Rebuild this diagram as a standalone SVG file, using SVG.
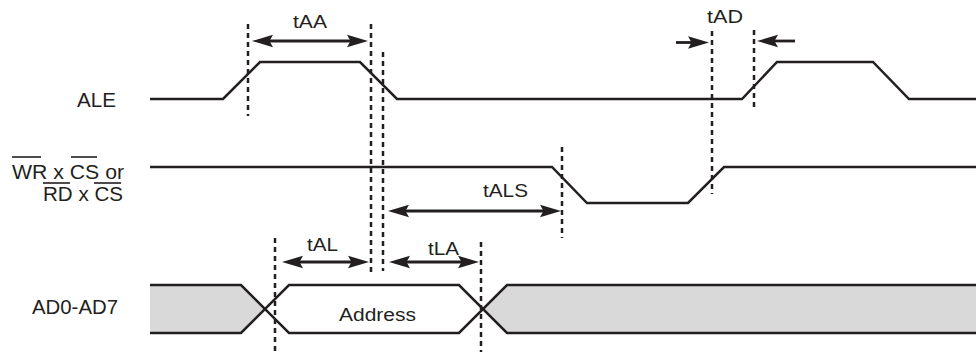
<svg xmlns="http://www.w3.org/2000/svg" width="976" height="354" viewBox="0 0 976 354">
<style>
.sig{fill:none;stroke:#231f20;stroke-width:2.5;stroke-linejoin:miter}
.dash{fill:none;stroke:#231f20;stroke-width:2.5;stroke-dasharray:5 4}
.arr{fill:none;stroke:#231f20;stroke-width:2.8}
.lbl{font-family:"Liberation Sans",Arial,sans-serif;font-size:20px;fill:#231f20}
.tlbl{font-family:"Liberation Sans",Arial,sans-serif;font-size:18px;fill:#231f20}
.bus{fill:#d9d9d9;stroke:none}
.ovl{stroke:#231f20;stroke-width:1.6}
</style>
<defs>
<marker id="ah" viewBox="0 -7 22 14" refX="13" refY="0" markerWidth="22" markerHeight="14" markerUnits="userSpaceOnUse" orient="auto-start-reverse">
<path d="M0,-6.2 L21,0 L0,6.2 L3.5,0 z" fill="#231f20"/>
</marker>
</defs>
<g id="labels">
<text class="lbl" x="77" y="107" textLength="39" lengthAdjust="spacingAndGlyphs">ALE</text>
<text class="lbl" x="12" y="179" textLength="112" lengthAdjust="spacingAndGlyphs">WR x CS or</text>
<text class="lbl" x="43" y="200.5" textLength="80" lengthAdjust="spacingAndGlyphs">RD x CS</text>
<line class="ovl" x1="12" y1="157" x2="41" y2="157"/>
<line class="ovl" x1="71" y1="157" x2="97" y2="157"/>
<line class="ovl" x1="43" y1="183" x2="70" y2="183"/>
<line class="ovl" x1="94" y1="183" x2="121" y2="183"/>
<text class="lbl" x="32" y="314" textLength="86" lengthAdjust="spacingAndGlyphs">AD0-AD7</text>
</g>
<g id="ALE">
<polyline class="sig" points="150,99 223,99 260,62 360,62 397,99 742,99 777,62 873,62 909,99 976,99"/>
</g>
<g id="WRCS">
<polyline class="sig" points="150,167 552,167 587,203 688,203 724,167 976,167"/>
</g>
<g id="AD">
<polygon class="bus" points="150,285 241,285 264,309 241,333 150,333"/>
<polygon class="bus" points="483,309 507,285 976,285 976,333 507,333"/>
<polyline class="sig" points="150,285 241,285 289,333 459,333 507,285 976,285"/>
<polyline class="sig" points="150,333 241,333 289,285 459,285 507,333 976,333"/>
<text class="tlbl" x="339" y="321" textLength="77" lengthAdjust="spacingAndGlyphs">Address</text>
</g>
<g id="connectors">
<line class="dash" x1="248" y1="24" x2="248" y2="116"/>
<line class="dash" x1="371" y1="24" x2="371" y2="273"/>
<line class="dash" x1="383" y1="52" x2="383" y2="271"/>
<line class="dash" x1="712" y1="31" x2="712" y2="194"/>
<line class="dash" x1="754" y1="30" x2="754" y2="108"/>
<line class="dash" x1="562" y1="147" x2="562" y2="238"/>
<line class="dash" x1="275" y1="238" x2="275" y2="352"/>
<line class="dash" x1="481" y1="242" x2="481" y2="352"/>
<line class="arr" x1="260" y1="41" x2="360" y2="41" marker-start="url(#ah)" marker-end="url(#ah)"/>
<line class="arr" x1="676" y1="42.5" x2="701" y2="42.5" marker-end="url(#ah)"/>
<line class="arr" x1="795" y1="41" x2="765" y2="41" marker-end="url(#ah)"/>
<line class="arr" x1="396" y1="211" x2="553" y2="211" marker-start="url(#ah)" marker-end="url(#ah)"/>
<line class="arr" x1="290" y1="262" x2="361" y2="262" marker-start="url(#ah)" marker-end="url(#ah)"/>
<line class="arr" x1="397" y1="262" x2="471" y2="262" marker-start="url(#ah)" marker-end="url(#ah)"/>
<text class="tlbl" x="293" y="28" textLength="34" lengthAdjust="spacingAndGlyphs">tAA</text>
<text class="tlbl" x="707" y="23" textLength="36" lengthAdjust="spacingAndGlyphs">tAD</text>
<text class="tlbl" x="483" y="197" textLength="45" lengthAdjust="spacingAndGlyphs">tALS</text>
<text class="tlbl" x="307" y="250.5" textLength="31" lengthAdjust="spacingAndGlyphs">tAL</text>
<text class="tlbl" x="428" y="255" textLength="31" lengthAdjust="spacingAndGlyphs">tLA</text>
</g>
</svg>
